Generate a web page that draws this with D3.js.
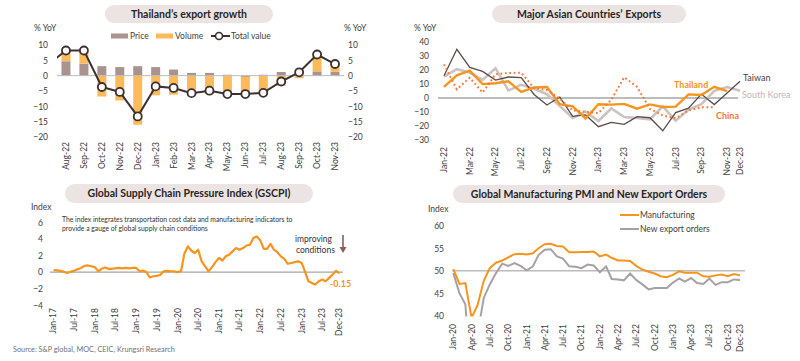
<!DOCTYPE html>
<html><head><meta charset="utf-8">
<script src="https://cdn.jsdelivr.net/npm/d3@7"></script>
<style>body{margin:0;background:#fff}svg{display:block;font-family:Lato,'Open Sans',sans-serif}</style>
</head><body><svg id="c" width="800" height="361"></svg>
<script>
// ---------- Panel 1: Thailand's export growth ----------
const expMonths = ["Aug-22","Sep-22","Oct-22","Nov-22","Dec-22","Jan-23","Feb-23","Mar-23","Apr-23","May-23","Jun-23","Jul-23","Aug-23","Sep-23","Oct-23","Nov-23"];
const expPrice  = [4.7,3.9,3.1,2.8,3.1,2.8,2.0,0.9,0.9,0.3,-0.4,0.3,1.2,0.2,1.4,1.3];
const expVolume = [3.7,4.4,-6.8,-8.1,-16.0,-6.4,-6.2,-6.5,-5.9,-6.6,-6.1,-6.2,-3.3,-0.8,6.0,2.8];
const expTotal  = [8.2,8.2,-3.7,-5.3,-13.3,-3.5,-4.0,-5.7,-4.9,-6.0,-6.0,-5.6,-1.9,1.1,6.9,3.8];
const expTotalJul22 = 3.6;
const expYTicks = [10,5,0,-5,-10,-15,-20];

// ---------- Panel 2: Major Asian Countries' Exports ----------
const asiaMonths = ["Jan-22","Feb-22","Mar-22","Apr-22","May-22","Jun-22","Jul-22","Aug-22","Sep-22","Oct-22","Nov-22","Dec-22","Jan-23","Feb-23","Mar-23","Apr-23","May-23","Jun-23","Jul-23","Aug-23","Sep-23","Oct-23","Nov-23","Dec-23"];
const taiwan     = [15.9,34.8,21.8,19.0,12.8,15.0,14.5,2.5,-5.0,0.7,-13.1,-12.1,-20.5,-17.4,-18.8,-13.3,-14.1,-23.4,-10.4,-7.3,2.8,-4.7,3.6,11.9];
const southKorea = [15.2,20.6,18.2,12.9,21.3,5.4,9.4,6.6,2.7,-5.8,-14.2,-9.6,-16.4,-7.5,-13.6,-14.3,-15.2,-6.0,-16.2,-8.3,-4.4,5.1,7.8,5.1];
const thailand   = [8.0,16.2,19.5,9.9,10.5,11.9,4.3,7.5,7.8,-4.4,-6.0,-14.6,-4.5,-4.7,-4.2,-7.6,-4.6,-6.4,-6.2,2.6,2.1,8.0,4.9];
const china      = [24.0,6.2,14.5,3.9,16.9,17.9,18.0,7.1,5.7,-0.5,-8.9,-9.9,-10.8,-1.3,14.8,8.0,-7.8,-12.5,-14.5,-8.9,-6.6,-6.6];
const asiaXTicks = ["Jan-22","Mar-22","May-22","Jul-22","Sep-22","Nov-22","Jan-23","Mar-23","May-23","Jul-23","Sep-23","Nov-23","Dec-23"];
const asiaYTicks = [40,30,20,10,0,-10,-20,-30];

// ---------- Panel 3: GSCPI (monthly Jan-17 .. Dec-23) ----------
const gscpiStart = "Jan-17";
const gscpi = [
 0.25,0.2,0.15,0.05,-0.1,0.05,0.15,0.35,0.5,0.75,0.8,0.7,
 0.6,0.1,0.4,0.55,0.4,0.4,0.45,0.5,0.45,0.5,0.45,0.5,
 0.5,0.1,0.2,0.0,-0.65,-0.5,-0.45,-0.35,0.1,0.15,0.1,0.1,
 0.0,0.1,2.2,3.1,2.6,2.3,2.7,1.3,0.7,0.1,0.6,1.2,
 1.7,1.4,1.9,2.1,2.5,2.9,2.7,2.9,3.2,3.3,4.1,4.3,
 3.8,2.8,2.8,3.4,2.7,2.4,1.9,1.6,1.0,1.1,1.2,1.3,
 1.1,0.0,-1.1,-1.3,-1.5,-1.1,-0.9,-1.1,-0.7,-0.3,0.15,-0.15];
const gscpiXTicks = ["Jan-17","Jul-17","Jan-18","Jul-18","Jan-19","Jul-19","Jan-20","Jul-20","Jan-21","Jul-21","Jan-22","Jul-22","Jan-23","Jul-23","Dec-23"];
const gscpiYTicks = [6,4,2,0,-2,-4];

// ---------- Panel 4: Global PMI (monthly Jan-20 .. Dec-23) ----------
const pmiStart = "Jan-20";
const pmiManufacturing = [
 50.4,47.1,47.3,39.6,42.4,47.8,50.6,51.8,52.3,53.0,53.7,53.8,
 53.6,53.9,55.0,55.9,56.0,55.5,55.4,54.1,54.1,54.2,54.2,54.3,
 53.2,53.6,52.9,52.3,52.3,52.2,51.1,50.3,49.8,49.4,48.8,48.6,
 49.1,49.9,49.6,49.6,49.6,48.8,48.7,49.0,49.2,48.8,49.3,49.0];
const pmiNewExport = [
 49.5,45.0,42.6,25.0,36.0,44.0,47.0,49.5,51.6,51.1,51.7,51.1,
 50.1,51.0,53.5,54.7,54.8,53.2,52.7,51.0,50.9,50.6,51.4,51.2,
 49.7,51.0,48.2,48.1,47.9,49.4,48.0,47.0,45.9,46.2,46.2,46.2,
 47.4,48.3,47.6,48.4,47.3,47.1,48.3,46.9,47.5,47.5,48.1,48.0];
const pmiXTicks = ["Jan-20","Apr-20","Jul-20","Oct-20","Jan-21","Apr-21","Jul-21","Oct-21","Jan-22","Apr-22","Jul-22","Oct-22","Jan-23","Apr-23","Jul-23","Oct-23","Dec-23"];
const pmiYTicks = [60,55,50,45,40];

// ---------- colours ----------
const C = {price:"#a9938f", volume:"#fbbb5b", total:"#3d3030", pill:"#ebe4e3",
  taiwan:"#5b4b4b", korea:"#cdc2c2", thai:"#f7941d", china:"#f47a3a",
  gscpi:"#f7941d", manu:"#f7941d", nexp:"#a9a1a1", axisText:"#404040", zero:"#bcbcbc"};

const svg = d3.select("#c");
const parse = d3.timeParse("%b-%y");
const tickFont = "8.5px";

function pill(x0, x1, y0, y1, text){
  svg.append("rect").attr("x",x0).attr("y",y0).attr("width",x1-x0).attr("height",y1-y0)
    .attr("rx",(y1-y0)/2).attr("fill",C.pill);
  svg.append("text").attr("x",(x0+x1)/2).attr("y",(y0+y1)/2).attr("dy","0.36em")
    .attr("text-anchor","middle").attr("font-weight","bold").attr("font-size","10.5px")
    .attr("fill","#262626").text(text);
}
function yAxis(g, scale, ticks, orient){
  const ax = (orient==="left"?d3.axisLeft(scale):d3.axisRight(scale)).tickValues(ticks).tickSize(0).tickPadding(0);
  g.call(ax);
  g.select(".domain").remove();
  g.selectAll("text").attr("font-size",tickFont).attr("fill",C.axisText).attr("font-family","Lato");
}
function xLabels(labels, xf, yTop){
  svg.append("g").selectAll("text").data(labels).join("text")
    .attr("transform",d=>`translate(${xf(d)},${yTop}) rotate(-90)`)
    .attr("dy","0.35em").attr("text-anchor","end")
    .attr("font-size",tickFont).attr("fill",C.axisText).text(d=>d);
}
function label(x,y,t,opts={}){
  const e = svg.append("text").attr("x",x).attr("y",y).text(t)
    .attr("font-size",opts.size||tickFont).attr("fill",opts.fill||C.axisText);
  if(opts.bold) e.attr("font-weight","bold");
  if(opts.anchor) e.attr("text-anchor",opts.anchor);
  return e;
}

// ================= Panel 1 =================
(function(){
  pill(105,273,5,23,"Thailand’s export growth");
  const x = d3.scaleBand().domain(expMonths).range([57,344]).paddingInner(0.5).paddingOuter(0.25);
  const y = d3.scaleLinear().domain([-20,10]).range([137,45]);
  const rows = expMonths.map((m,i)=>({m, price:expPrice[i], volume:expVolume[i]}));
  const stack = d3.stack().keys(["price","volume"]).offset(d3.stackOffsetDiverging)(rows);
  const bw = 9;
  svg.append("g").selectAll("g").data(stack).join("g")
    .attr("fill",d=>d.key==="price"?C.price:C.volume)
    .selectAll("rect").data(d=>d).join("rect")
    .attr("x",d=>x(d.data.m)+x.bandwidth()/2-bw/2).attr("width",bw)
    .attr("y",d=>y(Math.max(d[0],d[1]))).attr("height",d=>Math.abs(y(d[0])-y(d[1])));
  svg.append("line").attr("x1",57).attr("x2",344).attr("y1",y(0)).attr("y2",y(0))
    .attr("stroke",C.zero).attr("stroke-width",1);
  const cx = m=>x(m)+x.bandwidth()/2;
  const pts = expMonths.map((m,i)=>[cx(m),y(expTotal[i])]);
  const prev = [cx(expMonths[0])-x.step(), y(expTotalJul22)];
  svg.append("clipPath").attr("id","clip1").append("rect").attr("x",57).attr("y",30).attr("width",300).attr("height",120);
  svg.append("path").attr("clip-path","url(#clip1)").attr("d",d3.line()([prev,...pts]))
    .attr("fill","none").attr("stroke",C.total).attr("stroke-width",2);
  svg.append("g").selectAll("circle").data(pts).join("circle")
    .attr("cx",d=>d[0]).attr("cy",d=>d[1]).attr("r",4)
    .attr("fill","#fff").attr("stroke",C.total).attr("stroke-width",1.8);
  yAxis(svg.append("g").attr("transform","translate(48,0)"), y, expYTicks, "left");
  yAxis(svg.append("g").attr("transform","translate(348,0)"), y, expYTicks, "right");
  xLabels(expMonths, cx, 142);
  label(34,31,"% YoY");
  label(344,31,"% YoY");
  // legend
  svg.append("rect").attr("x",111).attr("y",33.5).attr("width",17).attr("height",5).attr("fill",C.price);
  label(130,39,"Price");
  svg.append("rect").attr("x",156).attr("y",33.5).attr("width",17).attr("height",5).attr("fill",C.volume);
  label(175,39,"Volume");
  svg.append("line").attr("x1",211).attr("x2",230).attr("y1",36).attr("y2",36).attr("stroke",C.total).attr("stroke-width",2);
  svg.append("circle").attr("cx",219).attr("cy",36).attr("r",3.5).attr("fill","#fff").attr("stroke",C.total).attr("stroke-width",1.6);
  label(231,39,"Total value");
})();

// ================= Panel 2 =================
(function(){
  pill(492,686,5,23,"Major Asian Countries’ Exports");
  const x = d3.scalePoint().domain(asiaMonths).range([444,740]);
  const y = d3.scaleLinear().domain([-30,40]).range([140,42]);
  svg.append("line").attr("x1",438).attr("x2",738).attr("y1",y(0)).attr("y2",y(0))
    .attr("stroke",C.zero).attr("stroke-width",2);
  const line = d3.line().x((d,i)=>x(asiaMonths[i])).y(d=>y(d));
  svg.append("path").attr("d",line(southKorea)).attr("fill","none").attr("stroke",C.korea).attr("stroke-width",2.6);
  svg.append("path").attr("d",line(taiwan)).attr("fill","none").attr("stroke",C.taiwan).attr("stroke-width",1.3);
  svg.append("path").attr("d",line(thailand)).attr("fill","none").attr("stroke",C.thai).attr("stroke-width",2.4);
  svg.append("path").attr("d",line(china)).attr("fill","none").attr("stroke",C.china).attr("stroke-width",2)
    .attr("stroke-dasharray","1.8 2.6");
  yAxis(svg.append("g").attr("transform","translate(429,0)"), y, asiaYTicks, "left");
  xLabels(asiaXTicks, d=>x(d), 147);
  label(414,31,"% YoY");
  label(743,81,"Taiwan",{size:"9px",fill:"#4a3f3f"});
  label(742,98,"South Korea",{size:"9px",fill:"#c2b5b5"});
  label(674,88,"Thailand",{size:"9px",fill:C.thai,bold:true});
  label(716,119,"China",{size:"9px",fill:C.china,bold:true});
})();

// ================= Panel 3 =================
(function(){
  pill(65,313,184,203,"Global Supply Chain Pressure Index (GSCPI)");
  const t0 = parse(gscpiStart);
  const dates = gscpi.map((v,i)=>d3.timeMonth.offset(t0,i));
  const x = d3.scaleTime().domain([dates[0],dates[dates.length-1]]).range([53.5,339.5]);
  const y = d3.scaleLinear().domain([-4,6]).range([305.3,222.3]);
  svg.append("line").attr("x1",50).attr("x2",343).attr("y1",y(0)).attr("y2",y(0))
    .attr("stroke","#a6a6a6").attr("stroke-width",1.2);
  svg.append("path").attr("d",d3.line().x((d,i)=>x(dates[i])).y(d=>y(d))(gscpi))
    .attr("fill","none").attr("stroke",C.gscpi).attr("stroke-width",2.2).attr("stroke-linejoin","round");
  yAxis(svg.append("g").attr("transform","translate(43,0)"), y, gscpiYTicks, "left");
  xLabels(gscpiXTicks, d=>x(parse(d)), 308);
  label(31,210,"Index");
  label(62,222,"The index integrates transportation cost data and manufacturing indicators to",{size:"6.8px",fill:"#333"});
  label(62,230.5,"provide a gauge of global supply chain conditions",{size:"6.8px",fill:"#333"});
  label(295,242,"improving",{size:"8.5px",fill:"#333"});
  label(296,252.5,"conditions",{size:"8.5px",fill:"#333"});
  svg.append("line").attr("x1",343).attr("x2",343).attr("y1",235).attr("y2",248).attr("stroke","#8a5c5c").attr("stroke-width",1.6);
  svg.append("path").attr("d","M339.5,247 L346.5,247 L343,253 Z").attr("fill","#8a5c5c");
  label(330,287,"-0.15",{size:"9px",fill:C.gscpi,bold:true});
  label(13,352,"Source: S&P global, MOC, CEIC, Krungsri Research",{size:"7.3px",fill:"#707070"});
})();

// ================= Panel 4 =================
(function(){
  pill(453,725,185,203,"Global Manufacturing PMI and New Export Orders");
  const t0 = parse(pmiStart);
  const dates = pmiManufacturing.map((v,i)=>d3.timeMonth.offset(t0,i));
  const x = d3.scaleTime().domain([dates[0],dates[dates.length-1]]).range([453.3,740]);
  const y = d3.scaleLinear().domain([40,60]).range([316,225.7]);
  svg.append("line").attr("x1",452).attr("x2",745).attr("y1",y(50)).attr("y2",y(50))
    .attr("stroke","#9a9a9a").attr("stroke-width",1);
  svg.append("clipPath").attr("id","clip4").append("rect").attr("x",440).attr("y",205).attr("width",320).attr("height",y(40)-205+0.5);
  const line = d3.line().x((d,i)=>x(dates[i])).y(d=>y(d));
  svg.append("path").attr("clip-path","url(#clip4)").attr("d",line(pmiNewExport))
    .attr("fill","none").attr("stroke",C.nexp).attr("stroke-width",2);
  svg.append("path").attr("clip-path","url(#clip4)").attr("d",line(pmiManufacturing))
    .attr("fill","none").attr("stroke",C.manu).attr("stroke-width",2);
  yAxis(svg.append("g").attr("transform","translate(444,0)"), y, pmiYTicks, "left");
  xLabels(pmiXTicks, d=>x(parse(d)), 324);
  label(428,212,"Index");
  svg.append("line").attr("x1",620).attr("x2",639).attr("y1",215).attr("y2",215).attr("stroke",C.manu).attr("stroke-width",2);
  label(640,218,"Manufacturing");
  svg.append("line").attr("x1",620).attr("x2",639).attr("y1",229).attr("y2",229).attr("stroke",C.nexp).attr("stroke-width",2);
  label(640,232,"New export orders");
})();
</script></body></html>
